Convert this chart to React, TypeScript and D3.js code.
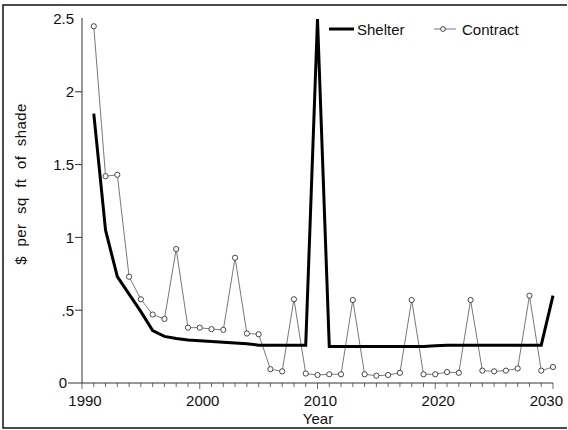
import React from "react";
import * as d3 from "d3";

const years = [1991,1992,1993,1994,1995,1996,1997,1998,1999,2000,2001,2002,2003,2004,2005,2006,2007,2008,2009,2010,2011,2012,2013,2014,2015,2016,2017,2018,2019,2020,2021,2022,2023,2024,2025,2026,2027,2028,2029,2030];
const shelter = [1.85,1.05,0.73,0.61,0.49,0.36,0.32,0.305,0.295,0.29,0.285,0.28,0.275,0.27,0.26,0.26,0.26,0.26,0.26,2.5,0.25,0.25,0.25,0.25,0.25,0.25,0.25,0.25,0.25,0.255,0.26,0.26,0.26,0.26,0.26,0.26,0.26,0.26,0.26,0.6];
const contract = [2.45,1.42,1.43,0.73,0.575,0.47,0.44,0.92,0.38,0.38,0.37,0.365,0.86,0.34,0.335,0.095,0.08,0.575,0.065,0.055,0.06,0.06,0.57,0.06,0.05,0.055,0.07,0.57,0.06,0.06,0.075,0.07,0.57,0.085,0.08,0.085,0.1,0.6,0.085,0.11];
const xTicks = [1990, 2000, 2010, 2020, 2030];
const xMinorTicks = [1990,1991,1992,1993,1994,1995,1996,1997,1998,1999,2000,2001,2002,2003,2004,2005,2006,2007,2008,2009,2010,2011,2012,2013,2014,2015,2016,2017,2018,2019,2020,2021,2022,2023,2024,2025,2026,2027,2028,2029,2030];
const yTicks = [0, 0.5, 1, 1.5, 2, 2.5];
const yTickLabels = ["0", ".5", "1", "1.5", "2", "2.5"];

const W = 568, H = 430;
const FONT = "'Liberation Sans', Arial, Helvetica, sans-serif";

export default function App() {
  const x = d3.scaleLinear().domain([1990, 2030]).range([82, 553]);
  const y = d3.scaleLinear().domain([0, 2.5]).range([383, 19]);

  const shelterLine = d3.line<number>().x((_, i) => x(years[i])).y((d) => y(d))(shelter) || "";
  const contractLine = d3.line<number>().x((_, i) => x(years[i])).y((d) => y(d))(contract) || "";

  return (
    <svg width={W} height={H} style={{ position: "absolute", left: 0, top: 0, background: "#fff" }} fontFamily={FONT}>
      {/* frame */}
      <path d={`M567,5 H3 V428 H567`} fill="none" stroke="#111" strokeWidth={1.5} />

      {/* y axis */}
      <line x1={82} x2={82} y1={y(2.5) - 1} y2={y(0)} stroke="#333" strokeWidth={1} />
      {yTicks.map((t, i) => (
        <g key={"yt" + i}>
          {i > 0 && i < yTicks.length - 1 ? (
            <line x1={75} x2={82} y1={y(t)} y2={y(t)} stroke="#333" strokeWidth={1} />
          ) : null}
          {i === 0 ? <line x1={68} x2={82} y1={y(t)} y2={y(t)} stroke="#333" strokeWidth={1} /> : null}
          <text x={i === 0 ? 67 : 74} y={y(t)} dy="0.36em" textAnchor="end" fontSize={15} fill="#111">
            {yTickLabels[i]}
          </text>
        </g>
      ))}

      {/* x axis */}
      <line x1={x(1990)} x2={x(2030)} y1={383} y2={383} stroke="#333" strokeWidth={1} />
      {xMinorTicks.map((t) => (
        <line key={"xm" + t} x1={x(t)} x2={x(t)} y1={383} y2={xTicks.includes(t) ? 389 : 387} stroke="#444" strokeWidth={0.8} />
      ))}
      {xTicks.map((t, i) => (
        <text
          key={"xt" + t}
          x={i === xTicks.length - 1 ? 563 : x(t) + 3}
          y={406}
          textAnchor={i === xTicks.length - 1 ? "end" : "middle"}
          fontSize={15}
          fill="#111"
        >
          {t}
        </text>
      ))}
      <text x={318} y={424} textAnchor="middle" fontSize={15} fill="#111">Year</text>
      <text
        transform={`translate(26,184) rotate(-90)`}
        textAnchor="middle"
        fontSize={15}
        fill="#111"
        style={{ wordSpacing: "5px", letterSpacing: "0.4px" }}
      >
        $ per sq ft of shade
      </text>

      {/* contract */}
      <path d={contractLine} fill="none" stroke="#555" strokeWidth={0.8} />
      {contract.map((v, i) => (
        <circle key={"c" + i} cx={x(years[i])} cy={y(v)} r={2.6} fill="#fff" stroke="#333" strokeWidth={0.9} />
      ))}

      {/* shelter */}
      <path d={shelterLine} fill="none" stroke="#000" strokeWidth={3} strokeLinejoin="miter" strokeMiterlimit={20} />

      {/* legend */}
      <line x1={329} x2={354} y1={29} y2={29} stroke="#000" strokeWidth={3} />
      <text x={357} y={35} fontSize={15} fill="#111">Shelter</text>
      <line x1={434} x2={456} y1={29} y2={29} stroke="#555" strokeWidth={0.8} />
      <circle cx={443} cy={29} r={2.4} fill="#fff" stroke="#333" strokeWidth={0.9} />
      <text x={462} y={35} fontSize={15} fill="#111">Contract</text>
    </svg>
  );
}
